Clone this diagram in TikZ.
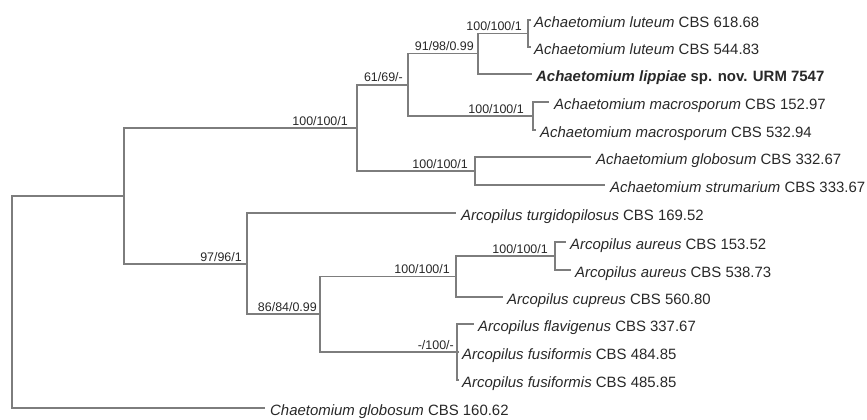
\documentclass[tikz,border=0pt]{standalone}
\usepackage{fontspec}
\setmainfont{Liberation Sans}
\definecolor{branch}{RGB}{125,125,125}
\definecolor{txt}{RGB}{40,40,40}
\tikzset{
  br/.style={draw=branch, line width=1.6bp, line cap=rect},
  leaf/.style={anchor=base west, inner sep=0pt, text=txt, font=\fontsize{15}{18}\selectfont, yshift=-7bp},
  sup/.style={anchor=base east, inner sep=0pt, text=txt, font=\fontsize{12.5}{15}\selectfont, yshift=3bp},
}
\begin{document}
\begin{tikzpicture}[x=1bp,y=-1bp]
\useasboundingbox (0,0) rectangle (867,419);
% internal nodes
\coordinate (root) at (12,196);
\coordinate (R2) at (124,196);
\coordinate (A) at (357,128);
\coordinate (B) at (408,84.75);
\coordinate (C) at (478,53.5);
\coordinate (D) at (528,33.5);
\coordinate (E) at (533,116);
\coordinate (F) at (475,171);
\coordinate (G) at (247,264);
\coordinate (H) at (320,314);
\coordinate (I) at (456,276.5);
\coordinate (J) at (555,256);
\coordinate (K) at (457,352);
% tips
\coordinate (t1) at (530,20);
\coordinate (t2) at (530,47);
\coordinate (t3) at (531,74);
\coordinate (t4) at (548,102);
\coordinate (t5) at (535,130);
\coordinate (t6) at (590,157);
\coordinate (t7) at (604,185);
\coordinate (t8) at (455,213);
\coordinate (t9) at (565,242);
\coordinate (t10) at (570,270);
\coordinate (t11) at (502,297);
\coordinate (t12) at (473,324);
\coordinate (t13) at (458,352);
\coordinate (t14) at (458,380);
\coordinate (t15) at (264,408);
% branches
\path[br] (root) -- (R2);
\path[br] (root) |- (t15);
\path[br] (R2) |- (A);
\path[br] (R2) |- (G);
\path[br] (A) |- (B);
\path[br] (A) |- (F);
\path[br] (B) |- (C);
\path[br] (B) |- (E);
\path[br] (C) |- (D);
\path[br] (C) |- (t3);
\path[br] (D) |- (t1);
\path[br] (D) |- (t2);
\path[br] (E) |- (t4);
\path[br] (E) |- (t5);
\path[br] (F) |- (t6);
\path[br] (F) |- (t7);
\path[br] (G) |- (t8);
\path[br] (G) |- (H);
\path[br] (H) |- (I);
\path[br] (H) |- (K);
\path[br] (I) |- (J);
\path[br] (I) |- (t11);
\path[br] (J) |- (t9);
\path[br] (J) |- (t10);
\path[br] (K) |- (t12);
\path[br] (K) |- (t13);
\path[br] (K) |- (t14);
% leaf labels
\node[leaf] (n1) at (534,20) {\textit{Achaetomium luteum} CBS 618.68};
\node[leaf] (n2) at (534,47) {\textit{Achaetomium luteum} CBS 544.83};
\node[leaf] (n3) at (536,74) {\textbf{\textit{Achaetomium lippiae} sp. nov. URM 7547}};
\node[leaf] (n4) at (554,102) {\textit{Achaetomium macrosporum} CBS 152.97};
\node[leaf] (n5) at (540,130) {\textit{Achaetomium macrosporum} CBS 532.94};
\node[leaf] (n6) at (596,157) {\textit{Achaetomium globosum} CBS 332.67};
\node[leaf] (n7) at (610,185) {\textit{Achaetomium strumarium} CBS 333.67};
\node[leaf] (n8) at (461,213) {\textit{Arcopilus turgidopilosus} CBS 169.52};
\node[leaf] (n9) at (570,242) {\textit{Arcopilus aureus} CBS 153.52};
\node[leaf] (n10) at (575,270) {\textit{Arcopilus aureus} CBS 538.73};
\node[leaf] (n11) at (507,297) {\textit{Arcopilus cupreus} CBS 560.80};
\node[leaf] (n12) at (478,324) {\textit{Arcopilus flavigenus} CBS 337.67};
\node[leaf] (n13) at (462,352) {\textit{Arcopilus fusiformis} CBS 484.85};
\node[leaf] (n14) at (462,380) {\textit{Arcopilus fusiformis} CBS 485.85};
\node[leaf] (n15) at (270,408) {\textit{Chaetomium globosum} CBS 160.62};
% support labels
\node[sup] (sD) at (522,33.5) {100/100/1};
\node[sup] (sC) at (474,53.5) {91/98/0.99};
\node[sup] (sB) at (403,84.75) {61/69/-};
\node[sup] (sA) at (348,128) {100/100/1};
\node[sup] (sE) at (524,116) {100/100/1};
\node[sup] (sF) at (468,171) {100/100/1};
\node[sup] (sG) at (242,264) {97/96/1};
\node[sup] (sH) at (317,314) {86/84/0.99};
\node[sup] (sI) at (450,276.5) {100/100/1};
\node[sup] (sJ) at (548,256) {100/100/1};
\node[sup] (sK) at (454,352) {-/100/-};
\end{tikzpicture}
\end{document}
